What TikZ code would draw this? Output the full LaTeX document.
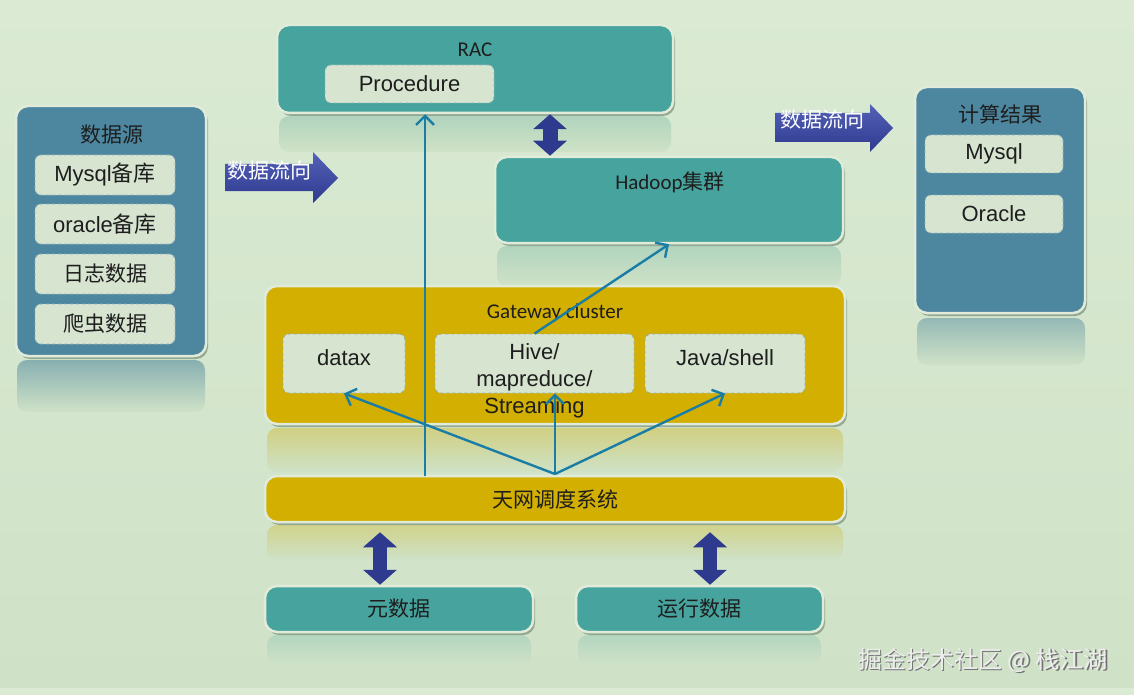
\documentclass[tikz,border=0pt]{standalone}
\usepackage{fontspec}
\setmainfont{Liberation Sans}
\newfontfamily\cjk{Noto Sans CJK SC}
\newfontfamily\calfont{Carlito}
\usetikzlibrary{arrows.meta,shadows,calc}
\definecolor{bgc}{HTML}{CFE2C7}
\definecolor{bgl}{HTML}{DAEAD3}
\definecolor{steel}{HTML}{4D869F}
\definecolor{teal}{HTML}{46A39D}
\definecolor{gold}{HTML}{D2AF00}
\definecolor{navy}{HTML}{2D3A8E}
\definecolor{navyl}{HTML}{5561B8}
\definecolor{link}{HTML}{1A7DA6}
\definecolor{inner}{HTML}{D6E4D0}
\definecolor{dashc}{HTML}{8FB0B8}
\definecolor{edge}{HTML}{E0EBD9}
\definecolor{shadowc}{HTML}{7E947E}
\definecolor{txt}{HTML}{1E1E1E}
\tikzset{
  box/.style={rectangle, rounded corners=12pt, draw=edge, line width=2.5pt, inner sep=0pt,
    drop shadow={shadow xshift=2pt, shadow yshift=-3pt, fill=shadowc, opacity=0.75}},
  inbox/.style={rectangle, rounded corners=6pt, fill=inner, draw=dashc, dashed, line width=0.8pt, inner sep=0pt},
  lat/.style={font=\fontsize{22}{27}\selectfont, text=txt, inner sep=0pt, align=center},
  cal/.style={font=\calfont\fontsize{21}{25}\selectfont, text=txt, inner sep=0pt},
  zh/.style={font=\cjk\fontsize{21}{25}\selectfont, text=txt, inner sep=0pt},
  flowtxt/.style={font=\cjk\fontsize{21}{22}\selectfont, text=white, inner sep=0pt},
  link/.style={draw=link, line width=2.4pt, -{Straight Barb[length=9pt,width=18pt]}},
  dbl/.style={draw=navy, line width=15pt, {Triangle[width=33pt,length=15pt]}-{Triangle[width=33pt,length=15pt]}},
  refl/.style={rounded corners=10pt}
}
\begin{document}
\begin{tikzpicture}[x=1pt,y=-1pt]
\useasboundingbox (0,0) rectangle (1134,695);
\shade[top color=bgl, bottom color=bgc] (0,0) rectangle (1134,688);
\fill[bgl] (0,688) rectangle (1134,695);

% reflections
\shade[refl, top color=steel!55!bgc, bottom color=bgc] (17,360) rectangle (205,412);
\shade[refl, top color=steel!45!bgc, bottom color=bgc] (917,318) rectangle (1085,365);
\shade[refl, top color=teal!22!bgc, bottom color=bgc] (279,116) rectangle (671,152);
\shade[refl, top color=teal!22!bgc, bottom color=bgc] (497,246) rectangle (841,286);
\shade[refl, top color=gold!35!bgc, bottom color=bgc] (267,428) rectangle (843,472);
\shade[refl, top color=gold!30!bgc, bottom color=bgc] (267,525) rectangle (843,560);
\shade[refl, top color=teal!20!bgc, bottom color=bgc] (267,635) rectangle (531,665);
\shade[refl, top color=teal!20!bgc, bottom color=bgc] (578,635) rectangle (821,665);

% data source
\node[box, fill=steel, minimum width=190pt, minimum height=250pt] (src) at (111,231) {};
\node[zh] (srcT) at (112,135) {数据源};
\node[inbox, minimum width=140pt, minimum height=40pt] (s1) at (105,175) {};
\node[lat] (s1t) at (s1) {Mysql{\cjk 备库}};
\node[inbox, minimum width=140pt, minimum height=40pt] (s2) at (105,224) {};
\node[lat] (s2t) at (s2) {oracle{\cjk 备库}};
\node[inbox, minimum width=140pt, minimum height=40pt] (s3) at (105,274) {};
\node[zh] (s3t) at (s3) {日志数据};
\node[inbox, minimum width=140pt, minimum height=40pt] (s4) at (105,324) {};
\node[zh] (s4t) at (s4) {爬虫数据};

% results
\node[box, fill=steel, minimum width=170pt, minimum height=226pt] (res) at (1000,200) {};
\node[zh] (resT) at (1000,114) {计算结果};
\node[inbox, minimum width=138pt, minimum height=38pt] (r1) at (994,154) {};
\node[lat] (r1t) at (r1) {Mysql};
\node[inbox, minimum width=138pt, minimum height=38pt] (r2) at (994,214) {};
\node[lat] (r2t) at (r2) {Oracle};

% RAC
\node[box, fill=teal, minimum width=396pt, minimum height=88pt] (rac) at (475,69) {};
\node[cal] (racT) at (475,50) {RAC};
\node[inbox, minimum width=169pt, minimum height=38pt] (proc) at (409.5,84) {};
\node[lat] (proct) at (proc) {Procedure};

% Hadoop
\node[box, fill=teal, minimum width=348pt, minimum height=86pt] (hadoop) at (669,200) {};
\node[cal] (hadoopT) at (670,182) {Hadoop{\cjk 集群}};

% Gateway
\node[box, fill=gold, minimum width=580pt, minimum height=138pt] (gw) at (555,355) {};
\node[cal] (gwT) at (555,313) {Gateway cluster};
\node[inbox, minimum width=122pt, minimum height=59pt] (datax) at (344,363.5) {};
\node[lat] (dataxt) at (344,358) {datax};
\node[inbox, minimum width=199pt, minimum height=59pt] (hive) at (534.5,363.5) {};
\node[lat, anchor=north] (hivet) at (534.5,343) {Hive/\\mapreduce/\\Streaming};
\node[inbox, minimum width=160pt, minimum height=59pt] (java) at (725,363.5) {};
\node[lat] (javat) at (725,358) {Java/shell};

% scheduler
\node[box, fill=gold, minimum width=580pt, minimum height=46pt] (tw) at (555,499) {};
\node[zh] (twT) at (tw) {天网调度系统};

% bottom boxes
\node[box, fill=teal, minimum width=268pt, minimum height=46pt] (meta) at (399,609) {};
\node[zh] (metaT) at (meta) {元数据};
\node[box, fill=teal, minimum width=247pt, minimum height=46pt] (run) at (699.5,609) {};
\node[zh] (runT) at (run) {运行数据};

% data flow arrows
\shade[top color=navyl, bottom color=navy] (225,164) -- (313,164) -- (313,152) -- (338,178) -- (313,203) -- (313,191) -- (225,191) -- cycle;
\node[flowtxt] (flow1) at (269,171) {数据流向};
\shade[top color=navyl, bottom color=navy] (775,113) -- (870,113) -- (870,104) -- (893,128) -- (870,152) -- (870,142) -- (775,142) -- cycle;
\node[flowtxt] (flow2) at (822,120) {数据流向};

% double arrows
\coordinate (dA) at (550,0);
\coordinate (dB) at (380,0);
\coordinate (dC) at (710,0);
\draw[dbl] (dA |- rac.south) -- (dA |- hadoop.north);
\draw[dbl, line width=14pt, shorten <=9pt] (dB |- tw.south) -- (dB |- meta.north);
\draw[dbl, line width=14pt, shorten <=9pt] (dC |- tw.south) -- (dC |- run.north);

% links
\coordinate (hub) at (555,474);
\coordinate (pstart) at (425,476);
\draw[link] (hub) -- (datax.south);
\draw[link] (hub) -- (hub |- hive.south);
\draw[link] (hub) -- (java.south);
\draw[link] (pstart) -- (pstart |- rac.south);
\draw[link] (hive.north) -- (hadoop.south);

% watermark
\node[font=\cjk\fontsize{24}{28}\selectfont, text=black!55, inner sep=0pt] (wmS) at (984.5,661.5) {掘金技术社区 @ 栈江湖};
\node[font=\cjk\fontsize{24}{28}\selectfont, text=white!93!black, inner sep=0pt] (wm) at (983,660) {掘金技术社区 @ 栈江湖};
\end{tikzpicture}
\end{document}
